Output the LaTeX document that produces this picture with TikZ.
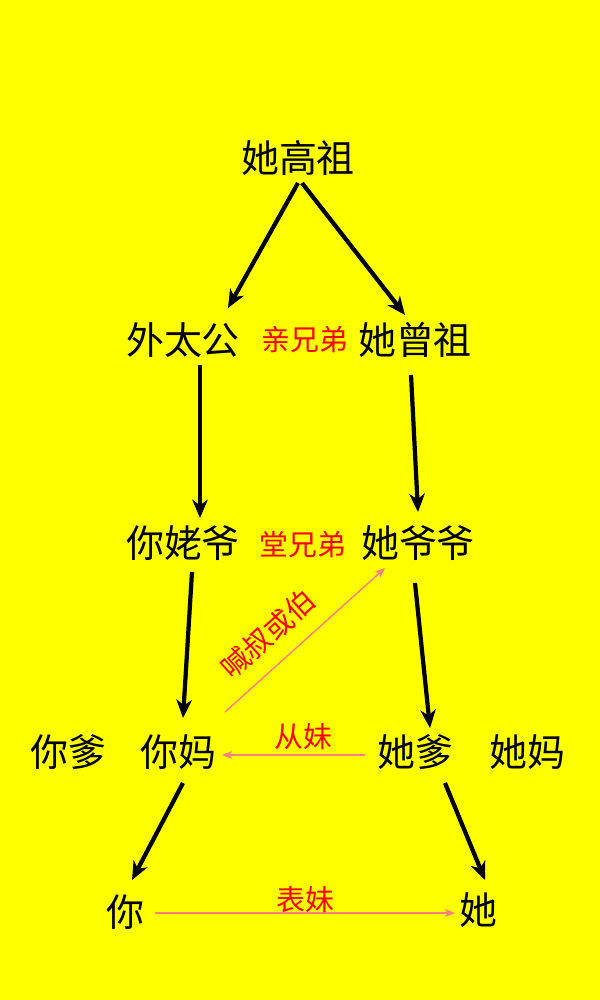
\documentclass[tikz,border=0pt]{standalone}
\usepackage{fontspec}
\newfontfamily\cjk{Noto Sans CJK SC}
\usetikzlibrary{arrows.meta}
\definecolor{bg}{RGB}{255,255,0}
\definecolor{pink}{RGB}{255,128,128}
\begin{document}
\begin{tikzpicture}[x=0.05cm,y=-0.05cm,
 main/.style={font=\cjk\fontsize{54}{64}\selectfont,inner sep=0},
 rel/.style={font=\cjk\fontsize{41}{48}\selectfont,text=red,inner sep=0},
 blk/.style={line width=6pt,-{Stealth[length=26pt,width=22pt,inset=8pt]}},
 pnk/.style={draw=pink,line width=2pt,-{Stealth[length=14pt,width=11pt,inset=3pt]}}]
\fill[bg] (0,0) rectangle (600,1000);
\useasboundingbox (0,0) rectangle (600,1000);
\node[main] (a) at (298,158) {她高祖};
\node[main] (b) at (183,340) {外太公};
\node[rel] (l1) at (305,340) {亲兄弟};
\node[main] (c) at (415,340) {她曾祖};
\node[main] (d) at (183,543) {你姥爷};
\node[rel] (l2) at (303,545) {堂兄弟};
\node[main] (e) at (418,543) {她爷爷};
\node[main] (f1) at (68,752) {你爹};
\node[main] (f) at (178,752) {你妈};
\node[main] (g) at (415,752) {她爹};
\node[main] (g1) at (527,752) {她妈};
\node[main] (h) at (125,912) {你};
\node[main] (i) at (478,910) {她};
\draw[blk] (298,183) coordinate (a1) -- (228,308) coordinate (b1);
\draw[blk] (302,183) coordinate (a2) -- (405,315) coordinate (c1);
\draw[blk] (200,365) coordinate (b2) -- (200,518) coordinate (d1);
\draw[blk] (411,375) coordinate (c2) -- (418,512) coordinate (e1);
\draw[blk] (192,572) coordinate (d2) -- (183,718) coordinate (f2);
\draw[blk] (415,583) coordinate (e2) -- (430,728) coordinate (g2);
\draw[blk] (183,783) coordinate (f3) -- (132,880) coordinate (h1);
\draw[blk] (445,783) coordinate (g3) -- (485,880) coordinate (i1);
\draw[pnk] (225,712) coordinate (p1) -- (385,568) coordinate (p2);
\node[rel,rotate=42] (l3) at (268,634) {喊叔或伯};
\draw[pnk] (365,755) coordinate (q1) -- (222,755) coordinate (q2);
\node[rel] (l4) at (303,737) {从妹};
\draw[pnk] (155,913) coordinate (r1) -- (455,913) coordinate (r2);
\node[rel] (l5) at (305,900) {表妹};
\end{tikzpicture}
\end{document}
